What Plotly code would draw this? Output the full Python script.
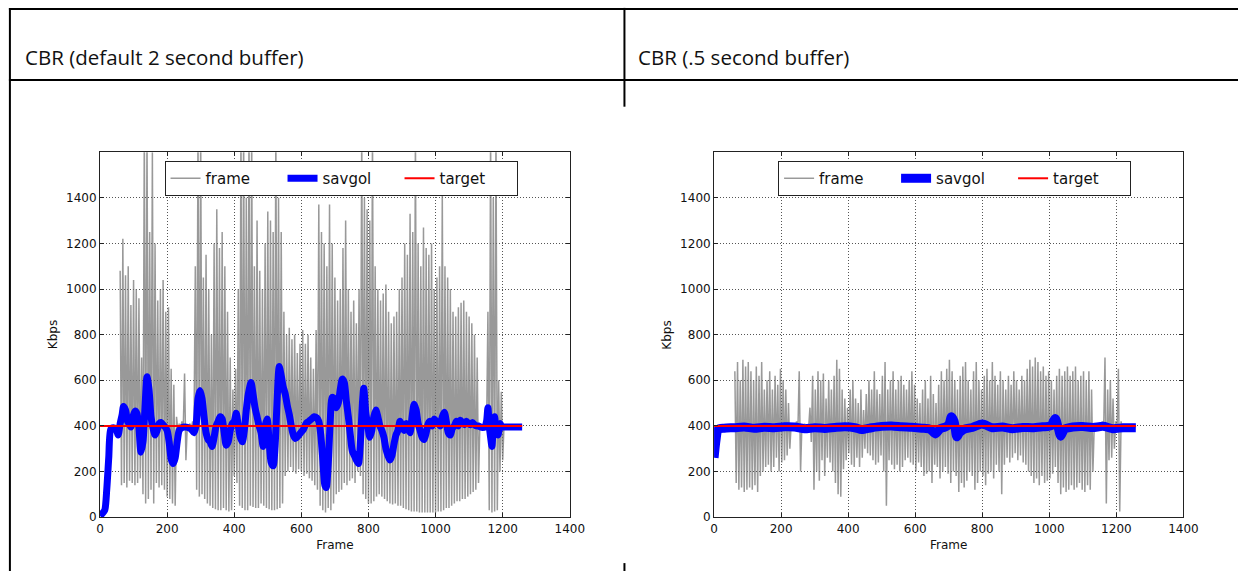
"""Two CBR bitrate plots (frame size, savgol smoothing, target) laid out in a two-cell table."""

import plotly.graph_objects as go

W, H = 1253, 578

# ---- data -----------------------------------------------------------------
TARGET_KBPS = 400
LAST_FRAME = 1258
FRAME_STEP = 4

# per-frame bitrate, default 2 s buffer (alternating I/P frame sizes), from frame 60
LEFT_FRAME_START = 60
LEFT_FRAME_KBPS = [
    1080, 140, 1220, 150, 1060, 130, 1100, 160, 930, 150,
    1040, 140, 1000, 150, 960, 170, 700, 100, 1700, 60,
    1700, 80, 1250, 120, 1600, 60, 1200, 150, 950, 130,
    1000, 140, 1040, 120, 900, 90, 920, 80, 650, 60,
    580, 50, 440, 380, 410, 390, 420, 390, 630, 250,
    400, 395, 410, 390, 420, 370, 1100, 120, 1700, 90,
    1700, 100, 1050, 80, 1150, 60, 1000, 50, 800, 40,
    1200, 35, 1350, 30, 1180, 30, 1250, 40, 1100, 30,
    900, 25, 700, 30, 560, 180, 650, 150, 1000, 50,
    1700, 40, 1700, 30, 1400, 30, 1700, 50, 1700, 45,
    1100, 40, 1300, 40, 1080, 60, 1000, 50, 1200, 40,
    1340, 35, 1300, 30, 1250, 30, 1700, 35, 1400, 40,
    1250, 60, 900, 180, 800, 200, 830, 220, 780, 200,
    800, 190, 720, 210, 760, 200, 820, 180, 760, 190,
    800, 170, 700, 160, 650, 140, 820, 120, 1370, 50,
    1250, 30, 1200, 20, 1100, 40, 1370, 30, 1200, 60,
    1050, 100, 950, 110, 1000, 120, 1180, 150, 1300, 140,
    1000, 160, 900, 170, 950, 150, 850, 200, 1000, 180,
    1700, 100, 1400, 80, 1350, 60, 1300, 60, 1700, 70,
    1100, 90, 1000, 100, 950, 90, 980, 80, 1020, 70,
    900, 60, 850, 55, 880, 60, 900, 50, 1000, 50,
    1050, 40, 1200, 35, 1150, 30, 1330, 25, 1250, 25,
    1700, 25, 1200, 20, 1100, 20, 1270, 20, 1180, 20,
    1150, 20, 1200, 20, 1000, 20, 1050, 25, 1100, 25,
    1420, 30, 1100, 40, 1050, 40, 1000, 50, 900, 60,
    880, 70, 920, 70, 940, 80, 950, 80, 900, 90,
    880, 100, 850, 110, 800, 120, 700, 150, 410, 390,
    400, 395, 420, 380, 900, 30, 1700, 20, 1400, 25,
    1700, 30, 600, 200, 550, 250, 405, 390, 400, 395,
    400, 395, 400, 395, 400, 395, 400, 395, 400, 395,
]

# per-frame bitrate, .5 s buffer, from frame 62
RIGHT_FRAME_START = 62
RIGHT_FRAME_KBPS = [
    640, 150, 680, 120, 600, 130, 690, 110, 660, 120,
    680, 130, 640, 120, 600, 140, 660, 110, 620, 180,
    680, 200, 560, 220, 600, 230, 640, 200, 560, 220,
    620, 260, 580, 200, 650, 240, 600, 250, 560, 270,
    500, 300, 410, 390, 400, 395, 420, 380, 640, 200,
    405, 390, 410, 385, 400, 390, 480, 330, 620, 120,
    560, 200, 640, 160, 600, 250, 630, 180, 520, 260,
    600, 240, 560, 200, 620, 150, 690, 100, 650, 90,
    560, 210, 520, 250, 480, 280, 560, 230, 600, 220,
    520, 260, 500, 220, 560, 260, 470, 300, 540, 280,
    600, 270, 560, 250, 640, 230, 560, 240, 540, 270,
    620, 200, 680, 50, 560, 250, 600, 230, 640, 210,
    560, 230, 600, 200, 620, 220, 580, 250, 560, 260,
    600, 240, 640, 230, 580, 200, 520, 240, 500, 220,
    560, 180, 600, 190, 520, 200, 620, 150, 540, 230,
    500, 220, 580, 170, 640, 200, 600, 220, 650, 190,
    690, 150, 640, 200, 600, 180, 560, 110, 620, 150,
    660, 130, 680, 160, 600, 200, 560, 180, 640, 120,
    680, 150, 600, 200, 560, 180, 620, 140, 650, 190,
    600, 200, 680, 170, 620, 230, 580, 200, 640, 100,
    600, 230, 560, 260, 620, 240, 580, 260, 640, 280,
    600, 250, 560, 270, 620, 240, 600, 230, 650, 200,
    690, 180, 660, 150, 700, 170, 680, 140, 640, 180,
    660, 150, 620, 160, 640, 170, 600, 190, 560, 220,
    620, 150, 650, 100, 620, 130, 640, 110, 660, 120,
    620, 140, 640, 120, 660, 130, 600, 150, 620, 120,
    640, 110, 600, 140, 640, 120, 560, 200, 405, 390,
    400, 395, 410, 390, 420, 380, 700, 60, 560, 250,
    600, 260, 520, 300, 420, 380, 650, 25, 420, 380,
    405, 395, 400, 395, 400, 395, 400, 395, 400, 395,
]

# savgol smoothed bitrate
LEFT_SAVGOL_FRAME = [
    0, 6, 14, 20, 26, 32, 40, 48, 54, 60, 66, 70, 76, 82, 88, 92, 98, 104, 110,
    116, 122, 128, 134, 140, 146, 152, 158, 164, 170, 176, 182, 188, 194, 200,
    206, 212, 218, 224, 230, 236, 244, 252, 262, 272, 280, 286, 292, 298, 304,
    310, 316, 322, 328, 334, 340, 346, 352, 358, 364, 370, 376, 382, 388, 394,
    400, 406, 412, 418, 424, 430, 436, 442, 450, 456, 462, 468, 474, 480, 486,
    492, 498, 504, 510, 516, 522, 528, 534, 540, 546, 552, 558, 564, 570, 576,
    582, 590, 598, 606, 614, 622, 630, 638, 646, 652, 658, 664, 670, 674, 680,
    686, 692, 698, 704, 710, 716, 722, 728, 734, 740, 746, 752, 758, 764, 770,
    776, 782, 786, 792, 798, 804, 810, 816, 822, 828, 834, 840, 846, 852, 858,
    864, 870, 876, 882, 888, 894, 900, 906, 912, 918, 924, 930, 936, 942, 948,
    954, 960, 966, 972, 978, 984, 990, 996, 1002, 1008, 1014, 1020, 1026, 1032,
    1038, 1044, 1050, 1056, 1062, 1068, 1074, 1080, 1086, 1092, 1098, 1104,
    1110, 1116, 1122, 1128, 1134, 1140, 1146, 1152, 1156, 1160, 1164, 1168,
    1172, 1176, 1180, 1186, 1192, 1198, 1204, 1258,
]
LEFT_SAVGOL_KBPS = [
    5, 15, 30, 120, 260, 385, 392, 385, 360, 410, 450, 485, 470, 420, 405, 395, 440, 465, 455,
    390, 285, 330, 480, 615, 560, 440, 390, 360, 380, 410, 415, 405, 395, 380,
    330, 255, 235, 260, 330, 380, 392, 395, 393, 385, 370, 400, 520, 555, 520,
    440, 370, 340, 330, 310, 350, 400, 420, 440, 430, 370, 315, 330, 380, 410,
    420, 455, 400, 350, 330, 380, 470, 540, 590, 540, 480, 440, 400, 370, 310,
    400, 430, 330, 240, 225, 320, 520, 660, 620, 570, 540, 490, 450, 400, 360,
    345, 355, 370, 385, 410, 420, 430, 440, 435, 420, 360, 250, 140, 130, 230,
    420, 525, 520, 480, 500, 560, 605, 590, 510, 440, 360, 290, 270, 250, 235,
    330, 500, 565, 460, 400, 350, 380, 440, 470, 440, 400, 380, 350, 300, 270,
    250, 270, 320, 360, 380, 420, 400, 380, 410, 390, 370, 440, 495, 470, 410,
    380, 350, 340, 370, 410, 420, 400, 430, 420, 415, 400, 440, 460, 420,
    370, 360, 390, 400, 420, 400, 425, 415, 405, 420, 410, 405,
    415, 405, 400, 400, 395, 393, 395, 420, 480, 400, 350, 310,
    400, 440, 380, 360, 410, 395, 395, 395,
]

RIGHT_SAVGOL_FRAME = [
    0, 6, 12, 30, 60, 90, 120, 150, 180, 210, 240, 270, 300, 330, 360, 390,
    420, 440, 470, 500, 530, 560, 590, 620, 645, 660, 675, 690, 700, 708, 716,
    724, 732, 745, 770, 800, 830, 860, 890, 920, 950, 980, 1005, 1012, 1018,
    1026, 1034, 1045, 1070, 1100, 1130, 1160, 1190, 1220, 1258,
]
RIGHT_SAVGOL_KBPS = [
    260, 340, 385, 390, 392, 395, 390, 394, 392, 396, 395, 388, 392, 389, 393, 396,
    392, 384, 392, 398, 400, 396, 394, 390, 385, 365, 388, 395, 405, 440, 420,
    352, 370, 385, 393, 408, 392, 395, 388, 393, 392, 396, 400, 420, 432,
    395, 355, 385, 395, 397, 393, 398, 388, 392, 392,
]

TICKS = [0, 200, 400, 600, 800, 1000, 1200, 1400]
Y_MAX = 1600
X_MAX = 1400

HEADERS = ["CBR (default 2 second buffer)", "CBR (.5 second buffer)"]
SERIES_NAMES = ["frame", "savgol", "target"]


# page pixel -> paper fraction
def px_x(v):
    return v / W


def px_y(v):
    return 1 - v / H


def frames(start, n):
    return list(range(start, start + FRAME_STEP * n, FRAME_STEP))


fig = go.Figure()

panels = [
    ("x", "y", "legend", LEFT_FRAME_START, LEFT_FRAME_KBPS, LEFT_SAVGOL_FRAME, LEFT_SAVGOL_KBPS, 7),
    ("x2", "y2", "legend2", RIGHT_FRAME_START, RIGHT_FRAME_KBPS, RIGHT_SAVGOL_FRAME, RIGHT_SAVGOL_KBPS, 9),
]
for xa, ya, leg, start, kbps, sg_x, sg_y, sg_w in panels:
    fig.add_trace(go.Scatter(
        x=frames(start, len(kbps)), y=kbps, mode="lines", name=SERIES_NAMES[0],
        line=dict(color="rgba(110,110,110,0.7)", width=1.5),
        xaxis=xa, yaxis=ya, legend=leg,
    ))
    fig.add_trace(go.Scatter(
        x=sg_x, y=sg_y, mode="lines", name=SERIES_NAMES[1],
        line=dict(color="#0000ff", width=sg_w, shape="spline", smoothing=0.7),
        xaxis=xa, yaxis=ya, legend=leg,
    ))
    fig.add_trace(go.Scatter(
        x=[0, LAST_FRAME], y=[TARGET_KBPS, TARGET_KBPS], mode="lines", name=SERIES_NAMES[2],
        line=dict(color="#ff0000", width=2),
        xaxis=xa, yaxis=ya, legend=leg,
    ))

label_font = dict(family="DejaVu Sans", size=12, color="#111")
axis_common = dict(
    showline=True, linecolor="#222", linewidth=1, mirror="ticks",
    ticks="inside", ticklen=4, tickcolor="#222",
    showgrid=True, gridcolor="#555", griddash="1px,2px", gridwidth=1,
    zeroline=False, tickvals=TICKS, tickfont=label_font,
)
y_dom = [px_y(523.5), px_y(154)]
fig.update_layout(
    xaxis=dict(axis_common, domain=[px_x(97.5), px_x(574.5)], range=[0, X_MAX], anchor="y",
               title=dict(text="Frame", standoff=6, font=label_font)),
    yaxis=dict(axis_common, domain=y_dom, range=[0, Y_MAX], anchor="x"),
    xaxis2=dict(axis_common, domain=[px_x(721), px_x(1197.6)], range=[0, X_MAX], anchor="y2",
                title=dict(text="Frame", standoff=6, font=label_font)),
    yaxis2=dict(axis_common, domain=y_dom, range=[0, Y_MAX], anchor="x2"),
)

# y axis titles, left of the widest tick label as in the reference
for x in [50, 673]:
    fig.add_annotation(
        text="Kbps", xref="paper", yref="paper", x=px_x(x), y=px_y(339),
        xanchor="center", yanchor="middle", textangle=-90, showarrow=False, font=label_font,
    )

legend_common = dict(
    orientation="h", xanchor="left", yanchor="top", y=px_y(163),
    bgcolor="white", bordercolor="#222", borderwidth=1,
    font=dict(family="DejaVu Sans", size=15, color="#111"),
    entrywidth=72, itemwidth=30, tracegroupgap=0,
)
fig.update_layout(
    legend=dict(legend_common, x=px_x(163)),
    legend2=dict(legend_common, x=px_x(786)),
)

# table frame around the two plots
line = dict(color="black", width=2)
shapes = [
    dict(type="line", x0=px_x(5), x1=1, y0=px_y(9), y1=px_y(9)),
    dict(type="line", x0=px_x(5), x1=1, y0=px_y(81), y1=px_y(81)),
    dict(type="line", x0=px_x(6), x1=px_x(6), y0=px_y(8), y1=0),
    dict(type="line", x0=px_x(630), x1=px_x(630), y0=px_y(8), y1=px_y(108)),
    dict(type="line", x0=px_x(630), x1=px_x(630), y0=px_y(570), y1=0),
]
for s in shapes:
    s.update(xref="paper", yref="paper", line=line)
fig.update_layout(shapes=shapes)

for text, x in zip(HEADERS, [19, 642]):
    fig.add_annotation(
        text=text, xref="paper", yref="paper", x=px_x(x), y=px_y(58),
        xanchor="left", yanchor="middle", showarrow=False,
        font=dict(family="Open Sans", size=20.5, color="#111"),
    )

fig.update_layout(
    width=W, height=H, margin=dict(l=0, r=0, t=0, b=0),
    paper_bgcolor="white", plot_bgcolor="white",
)

# drop the default 8px body margin so the figure fills the window exactly
fig.write_html(
    "out.html",
    config={"displayModeBar": False},
    post_script="document.body.style.margin='0';",
)
